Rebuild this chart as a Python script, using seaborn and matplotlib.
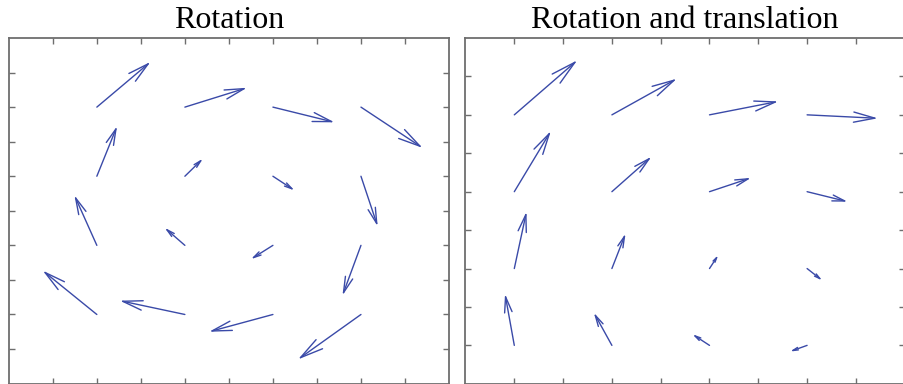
import numpy as np
import matplotlib
matplotlib.use("Agg")
import matplotlib.pyplot as plt
import seaborn as sns

# grid of arrow origins (data units)
rot_x = [2, 4, 6, 8]
rot_y = [8, 6, 4, 2]
# arrow components, one row per y origin
rot_u = [[1.22, 1.41, 1.40, 1.40],
         [0.46, 0.41, 0.49, 0.38],
         [-0.51, -0.46, -0.50, -0.42],
         [-1.23, -1.48, -1.45, -1.43]]
rot_v = [[1.31, 0.56, -0.44, -1.18],
         [1.45, 0.51, -0.41, -1.45],
         [1.45, 0.51, -0.40, -1.45],
         [1.27, 0.40, -0.50, -1.30]]

tr_x = [1, 3, 5, 7]
tr_y = [7, 5, 3, 1]
tr_u = [[1.29, 1.33, 1.41, 1.45],
        [0.75, 0.81, 0.85, 0.83],
        [0.25, 0.28, 0.18, 0.31],
        [-0.19, -0.37, -0.35, -0.35]]
tr_v = [[1.42, 0.94, 0.35, -0.09],
        [1.58, 0.91, 0.36, -0.26],
        [1.48, 0.91, 0.35, -0.31],
        [1.34, 0.85, 0.29, -0.16]]

titles = ["Rotation", "Rotation and translation"]

sns.set_style("white")
plt.rcParams["font.family"] = ["Liberation Serif", "DejaVu Serif"]
plt.rcParams["text.color"] = "black"

arrow_color = "#3a4aa8"
spine_color = "#6e6e6e"

fig = plt.figure(figsize=(9.04, 3.84), dpi=100)
ax1 = fig.add_axes([8.8 / 904, 0.4 / 384, (449 - 8.8) / 904, (383.6 - 38) / 384])
ax2 = fig.add_axes([465.5 / 904, 0.2 / 384, (904.7 - 465.5) / 904, (383.8 - 38) / 384])


def draw_field(ax, xs, ys, us, vs, lim, title):
    ax.set_xlim(0, lim)
    ax.set_ylim(0, lim)
    # size of one data unit in points, so heads scale with arrow length
    bb = ax.get_position()
    sx = bb.width * fig.get_figwidth() * 72 / lim
    sy = bb.height * fig.get_figheight() * 72 / lim
    for i, y0 in enumerate(ys):
        for j, x0 in enumerate(xs):
            u, v = us[i][j], vs[i][j]
            L = np.hypot(u * sx, v * sy)
            hl = 0.3 * L
            ax.annotate("", xy=(x0 + u, y0 + v), xytext=(x0, y0),
                        xycoords="data", textcoords="data",
                        arrowprops=dict(arrowstyle="->,head_length=%.2f,head_width=%.2f" % (hl, hl * 0.24),
                                        color=arrow_color, lw=1.0,
                                        shrinkA=0, shrinkB=0, mutation_scale=1))
    ax.set_xticks(np.arange(1, lim))
    ax.set_yticks(np.arange(1, lim))
    ax.tick_params(direction="in", length=4, width=1, color=spine_color,
                   top=True, right=True, bottom=True, left=True,
                   labelbottom=False, labelleft=False)
    for s in ax.spines.values():
        s.set_color(spine_color)
        s.set_linewidth(1.3)
    ax.set_title(title, fontsize=23, pad=7, color="black")


draw_field(ax1, rot_x, rot_y, rot_u, rot_v, 10, titles[0])
draw_field(ax2, tr_x, tr_y, tr_u, tr_v, 9, titles[1])

fig.savefig("out.png", dpi=100, facecolor="white")
